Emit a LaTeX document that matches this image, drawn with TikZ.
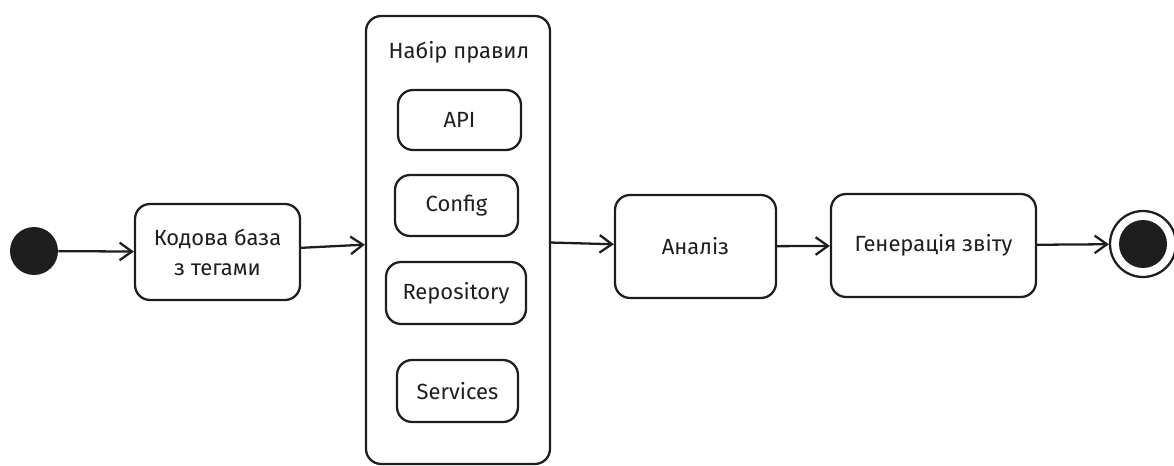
\documentclass[tikz,border=0pt]{standalone}
\usepackage{fontspec}
\setmainfont{Fira Sans}
\usepackage{tikz}
\usetikzlibrary{positioning,arrows.meta,shapes.geometric,calc}
\definecolor{ink}{RGB}{30,30,30}

\begin{document}
\begin{tikzpicture}[x=0.02cm, y=-0.02cm, >={Straight Barb[length=7pt,width=10pt]},
    box/.style={draw=ink, line width=1.3pt, rounded corners=0.3cm, align=center,
      text=ink, font=\fontsize{12.5}{17}\selectfont, inner sep=0pt},
    flow/.style={->, draw=ink, line width=1.3pt}]
        \useasboundingbox (0,0) rectangle (1174,466);
        % start and end states
        \node[circle, fill=ink, minimum size=0.96cm, inner sep=0pt] (start) at (34,251) {};
        \node[circle, draw=ink, line width=1.3pt, minimum size=1.32cm, inner sep=0pt] (finish) at (1143,244) {};
        \node[circle, fill=ink, minimum size=0.96cm, inner sep=0pt] (finishDot) at (finish) {};
        % main steps
        \node[box, minimum width=3.3cm, minimum height=1.92cm] (code) at (217.5,252) {Кодова база\\з тегами};
        \node[box, minimum width=3.68cm, minimum height=8.96cm] (rules) at (458,240) {};
        \node[text=ink, font=\fontsize{12.5}{17}\selectfont] (rulesTitle) at (459,52) {Набір правил};
        \node[box, minimum width=3.22cm, minimum height=2.06cm] (analysis) at (695.5,246.5) {Аналіз};
        \node[box, minimum width=4.1cm, minimum height=2.06cm] (report) at (933.5,245.5) {Генерація звіту};
        % rule groups
        \node[box, minimum width=2.46cm, minimum height=1.2cm] (api) at (459.5,120) {API};
        \node[box, minimum width=2.46cm, minimum height=1.22cm] (config) at (456.5,205.5) {Config};
        \node[box, minimum width=2.8cm, minimum height=1.24cm] (repo) at (456,293) {Repository};
        \node[box, minimum width=2.42cm, minimum height=1.24cm] (services) at (457.5,391) {Services};
        % flow
        \draw[flow] (start) -- (code);
        \draw[flow] (code) -- (rules);
        \draw[flow] (rules) -- (analysis);
        \draw[flow] (analysis) -- (report);
        \draw[flow] (report) -- (finish);
      \end{tikzpicture}
\end{document}
